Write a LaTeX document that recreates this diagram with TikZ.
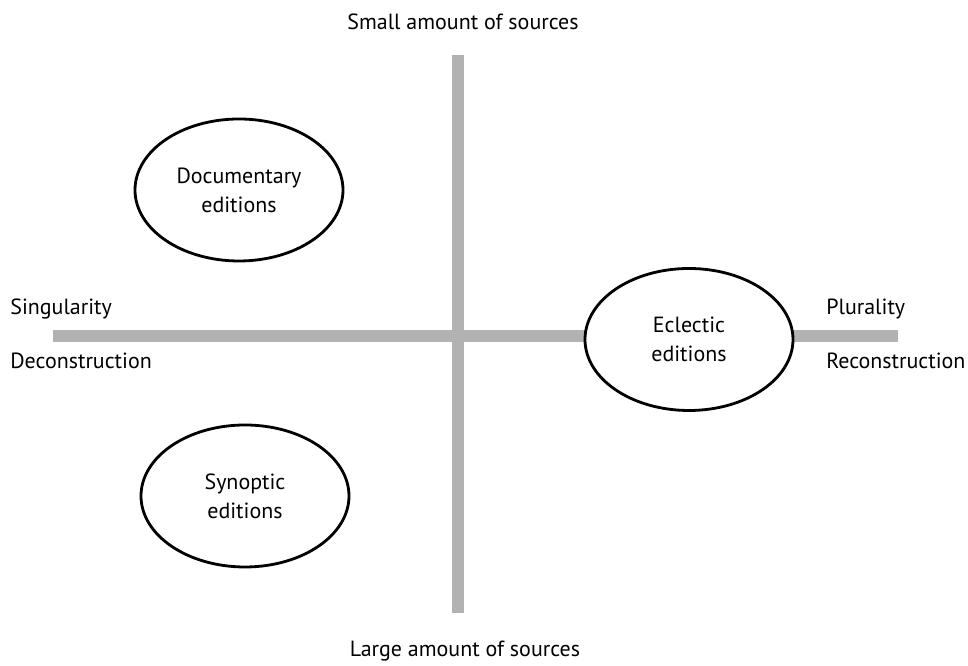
\documentclass[tikz,border=0pt]{standalone}
\usepackage{fontspec}
\setmainfont{PT Sans}
\usepackage{tikz}
\usetikzlibrary{shapes}
\tikzset{
  every node/.style={font=\fontsize{12.5}{16.5}\selectfont}
}

\begin{document}
\begin{tikzpicture}
  \tikzset{
    axis/.style={
      draw=black!30,
      line width=0.23cm
    },
    edition/.style={
      draw,
      ellipse,
      fill=white,
      align=center,
      minimum width=4.16cm,
      minimum height=2.84cm,
      inner sep=0pt,
      line width=1.6pt
    },
    axislabel/.style={
      anchor=west,
      inner sep=0pt
    }
  }
  \useasboundingbox (-9.16,6.72) rectangle (10.2,-6.6);

  % Axes
  \coordinate (top) at (0,5.62);
  \coordinate (bottom) at (0,-5.54);
  \coordinate (left) at (-8.1,0);
  \coordinate (right) at (8.8,0);
  \draw[axis] (left) -- (right);
  \draw[axis] (top) -- (bottom);

  % Editions
  \node[edition] (documentary) at (-4.38,2.92) {Documentary\\editions};
  \node[edition] (synoptic) at (-4.26,-3.2) {Synoptic\\editions};
  \node[edition] (eclectic) at (4.62,-0.07) {Eclectic\\editions};

  % Axis labels
  \node (small) at (0.1,6.28) {Small amount of sources};
  \node (large) at (0.14,-6.3) {Large amount of sources};
  \node[axislabel] (singularity) at (-8.96,0.54) {Singularity};
  \node[axislabel] (deconstruction) at (-8.96,-0.5) {Deconstruction};
  \node[axislabel] (plurality) at (7.36,0.54) {Plurality};
  \node[axislabel] (reconstruction) at (7.36,-0.5) {Reconstruction};
\end{tikzpicture}
\end{document}
